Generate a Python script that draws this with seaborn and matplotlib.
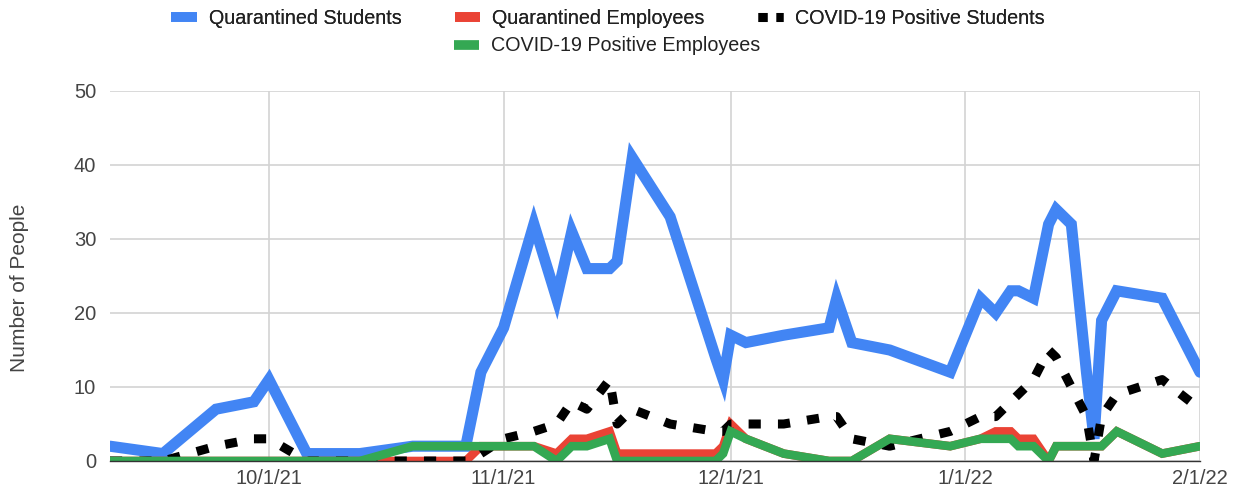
import matplotlib
matplotlib.use("Agg")
import matplotlib.pyplot as plt
from matplotlib.lines import Line2D
import seaborn as sns
import pandas as pd

dates = ["2021-09-10", "2021-09-17", "2021-09-24", "2021-09-29", "2021-10-01",
         "2021-10-06", "2021-10-13", "2021-10-20", "2021-10-27", "2021-10-29",
         "2021-11-01", "2021-11-05", "2021-11-08", "2021-11-10", "2021-11-12",
         "2021-11-15", "2021-11-16", "2021-11-18", "2021-11-23", "2021-11-29",
         "2021-11-30", "2021-12-01", "2021-12-03", "2021-12-08", "2021-12-14",
         "2021-12-15", "2021-12-17", "2021-12-22", "2021-12-30", "2022-01-03",
         "2022-01-05", "2022-01-07", "2022-01-08", "2022-01-10", "2022-01-12",
         "2022-01-13", "2022-01-15", "2022-01-17", "2022-01-18", "2022-01-19",
         "2022-01-21", "2022-01-27", "2022-02-01"]

quarantined_students = [2, 1, 7, 8, 11, 1, 1, 2, 2, 12,
                        18, 32, 22, 31, 26, 26, 27, 41, 33, 14,
                        11, 17, 16, 17, 18, 22, 16, 15, 12, 22,
                        20, 23, 23, 22, 32, 34, 32, 12, 3, 19,
                        23, 22, 12]
quarantined_employees = [0, 0, 0, 0, 0, 0, 0, 0, 0, 2,
                         2, 2, 1, 3, 3, 4, 1, 1, 1, 1,
                         2, 5, 3, 1, 0, 0, 0, 3, 2, 3,
                         4, 4, 3, 3, 0, 2, 2, 2, 2, 2,
                         4, 1, 2]
positive_students = [0, 0, 2, 3, 3, 0, 0, 0, 0, 1,
                     3, 4, 5, 8, 7, 11, 5, 7, 5, 4,
                     4, 5, 5, 5, 6, 6, 3, 2, 4, 6,
                     6, 8, 9, 11, 15, 14, 10, 6, 0, 6,
                     9, 11, 7]
positive_employees = [0, 0, 0, 0, 0, 0, 0, 2, 2, 2,
                      2, 2, 0, 2, 2, 3, 0, 0, 0, 0,
                      1, 4, 3, 1, 0, 0, 0, 3, 2, 3,
                      3, 3, 2, 2, 0, 2, 2, 2, 2, 2,
                      4, 1, 2]

series_names = ["Quarantined Students", "Quarantined Employees",
                "COVID-19 Positive Students", "COVID-19 Positive Employees"]
colors = ["#4285F4", "#EA4335", "#000000", "#34A853"]
tick_dates = ["2021-10-01", "2021-11-01", "2021-12-01", "2022-01-01", "2022-02-01"]
tick_labels = ["10/1/21", "11/1/21", "12/1/21", "1/1/22", "2/1/22"]
y_ticks = [0, 10, 20, 30, 40, 50]

df = pd.DataFrame({"date": pd.to_datetime(dates),
                   series_names[0]: quarantined_students,
                   series_names[1]: quarantined_employees,
                   series_names[2]: positive_students,
                   series_names[3]: positive_employees})

sns.set_theme(style="white")
plt.rcParams["font.family"] = ["Liberation Sans", "DejaVu Sans"]

fig = plt.figure(figsize=(12.41, 4.97), dpi=100)
ax = fig.add_axes([110 / 1241, 36 / 497, 1090 / 1241, 370 / 497])

widths = [8.0, 6.2, 6.5, 6.2]
dot_pattern = (1.35, 1.9)
for name, col, lw in zip(series_names, colors, widths):
    sns.lineplot(data=df, x="date", y=name, ax=ax, color=col, linewidth=lw,
                 legend=False)
    line = ax.lines[-1]
    if name == "COVID-19 Positive Students":
        line.set_dashes(dot_pattern)
        line.set_dash_capstyle("butt")
    else:
        line.set_solid_joinstyle("miter")

ax.set_xlim(pd.Timestamp(dates[0]), pd.Timestamp(dates[-1]))
ax.set_ylim(0, 50)
ax.set_yticks(y_ticks)
ax.set_yticklabels([str(v) for v in y_ticks])
ax.set_xticks(pd.to_datetime(tick_dates))
ax.set_xticklabels(tick_labels)
ax.grid(True, color="#d3d3d3", linewidth=1.2)
ax.set_axisbelow(True)
for s in ["top", "left", "right"]:
    ax.spines[s].set_visible(False)
ax.spines["bottom"].set_color("#333333")
ax.spines["bottom"].set_linewidth(1.0)
ax.tick_params(axis="both", length=0, labelsize=14.5, colors="#444444")
ax.tick_params(axis="x", pad=6)
ax.tick_params(axis="y", pad=10)
ax.set_xlabel("")
ax.set_ylabel("")
fig.text(20 / 1241, 1 - 288 / 497, "Number of People", rotation=90, fontsize=15,
         color="#444444", ha="center", va="center")

def handle(col, dotted=False):
    if dotted:
        return Line2D([0], [0], color=col, linewidth=6.5, dashes=(1.0, 1.0),
                      dash_capstyle="butt")
    return Line2D([0], [0], color=col, linewidth=7, solid_capstyle="butt")

leg1 = fig.legend([handle(colors[0]), handle(colors[1]), handle(colors[2], True)],
                  series_names[:3], loc="center", bbox_to_anchor=(608 / 1241, 1 - 18 / 497),
                  ncol=3, frameon=False, fontsize=14.2, handlelength=1.3,
                  handletextpad=0.6, columnspacing=2.7, labelcolor="#222222")
leg2 = fig.legend([handle(colors[3])], series_names[3:], loc="center",
                  bbox_to_anchor=(607 / 1241, 1 - 46 / 497), ncol=1, frameon=False,
                  fontsize=14.2, handlelength=1.3, handletextpad=0.6,
                  labelcolor="#222222")
fig.add_artist(leg1)

fig.savefig("out.png", dpi=100)
